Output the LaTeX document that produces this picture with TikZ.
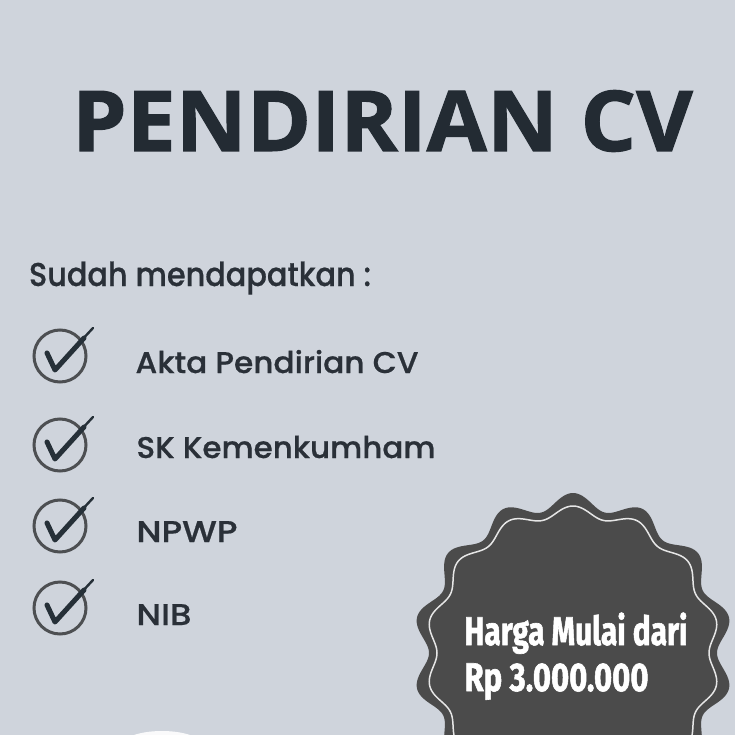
\documentclass[tikz,border=0pt]{standalone}
\usepackage{fontspec}
\usepackage{graphicx}
\setmainfont{Open Sans}
\newfontfamily\titlefont{Open Sans}[FakeBold=1.2]
\newfontfamily\listfont{Poppins}[UprightFont=* Medium, FakeBold=0.6]
\newfontfamily\pricefont{Fira Sans}[FakeBold=1.6]
\definecolor{bgc}{HTML}{CFD4DC}
\definecolor{titlec}{HTML}{232B33}
\definecolor{textc}{HTML}{2A3038}
\definecolor{badgec}{HTML}{4B4B4B}
\definecolor{ringc}{HTML}{4D4F52}
\definecolor{checkc}{HTML}{263038}
\definecolor{linec}{HTML}{E6E6E6}
\newcommand{\fitw}[2]{\resizebox{#1pt}{\height}{#2}}
\tikzset{
  titletext/.style={inner sep=0pt, anchor=base, text=titlec,
    font=\titlefont\bfseries\fontsize{84}{84}\selectfont},
  listtext/.style={inner sep=0pt, anchor=base, text=textc,
    font=\listfont\fontsize{30}{30}\selectfont},
  headtext/.style={inner sep=0pt, anchor=base, text=textc,
    font=\listfont\fontsize{33}{33}\selectfont},
  pricetext/.style={inner sep=0pt, anchor=base, text=white,
    font=\pricefont\bfseries\fontsize{40}{40}\selectfont},
  ring/.style={draw=ringc, line width=3pt},
  checkthick/.style={draw=checkc, line width=5pt, line cap=round, line join=round},
  checkthin/.style={draw=checkc, line width=2.4pt, line cap=round},
}
\begin{document}
\begin{tikzpicture}[x=1pt, y=-1pt]
\useasboundingbox (0,0) rectangle (735,735);
\clip (0,0) rectangle (735,735);
\fill[bgc] (0,0) rectangle (735,735);

% title
\node[titletext] (title) at (382.5,151) {\fitw{621}{PENDIRIAN CV}};

% heading
\node[headtext] (head) at (200,286) {\fitw{342}{Sudah mendapatkan :}};

% list items
\node[listtext] (item1) at (277,373) {\fitw{283}{Akta Pendirian CV}};
\node[listtext] (item2) at (286,458) {\fitw{299}{SK Kemenkumham}};
\node[listtext] (item3) at (187,542) {\fitw{101}{NPWP}};
\node[listtext] (item4) at (164,625) {\fitw{55}{NIB}};

% check icons
\foreach \cy in {356,445,526,608}{
  \draw[ring] (60,\cy) circle (26);
  \draw[checkthick] (47,\cy-3) -- (55,\cy+14) -- (84,\cy-18);
  \draw[checkthin] (80,\cy-14) -- (93,\cy-28);
}

% badge
\begin{scope}[shift={(573,653)}]
  \fill[badgec] plot[domain=0:360, samples=421, variable=\t]
     (\t:{152+8*cos(14*(\t-90))}) -- cycle;
  \draw[linec, line width=1.5pt] plot[domain=0:360, samples=421, variable=\t]
     (\t:{141.5+5.5*cos(14*(\t-90))}) -- cycle;
\end{scope}
\node[pricetext] (price1) at (576,645) {\fitw{223}{Harga Mulai dari}};
\node[pricetext] (price2) at (556.5,691) {\fitw{184}{Rp 3.000.000}};

% white shape peeking at bottom
\fill[white, opacity=0.9] (162,745) ellipse [x radius=40, y radius=14];
\end{tikzpicture}
\end{document}
